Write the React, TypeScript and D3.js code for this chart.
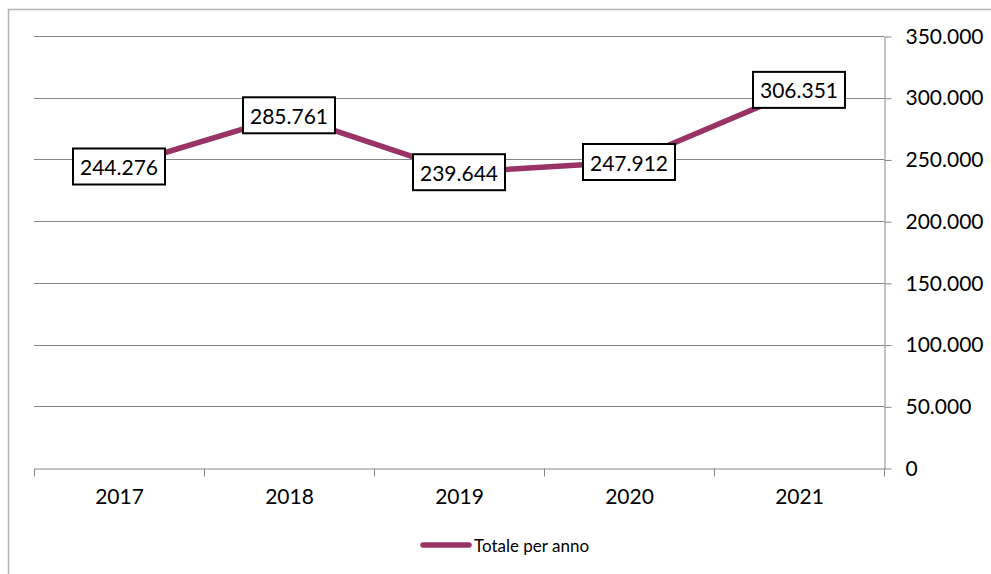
import React, { useRef, useEffect } from 'react';
import * as d3 from 'd3';

const years = ['2017', '2018', '2019', '2020', '2021'];
const totals = [244276, 285761, 239644, 247912, 306351];
const yTicks = [0, 50000, 100000, 150000, 200000, 250000, 300000, 350000];
const seriesName = 'Totale per anno';

const fmt = (v: number) => (v === 0 ? '0' : d3.format(',')(v).replace(/,/g, '.'));

const App = () => {
  const ref = useRef<SVGSVGElement>(null);

  useEffect(() => {
    const svg = d3.select(ref.current);
    svg.selectAll('*').remove();

    const width = 991;
    const height = 574;
    const margin = { top: 36, right: 107, bottom: 106, left: 34 };
    const font = 'Lato, "Open Sans", sans-serif';
    const lineColor = '#993366';
    const gridColor = '#868686';

    // outer chart frame (cut by the window on the right and bottom)
    svg.append('rect')
      .attr('x', 8.5).attr('y', 9.5)
      .attr('width', width + 20).attr('height', height + 20)
      .attr('fill', 'white')
      .attr('stroke', '#b4b4b4')
      .attr('stroke-width', 1.5);

    const x = d3.scaleBand()
      .domain(years)
      .range([margin.left, width - margin.right]);

    const y = d3.scaleLinear()
      .domain([0, 350000])
      .range([height - margin.bottom, margin.top]);

    // gridlines
    svg.append('g')
      .selectAll('line')
      .data(yTicks.filter(d => d > 0))
      .join('line')
      .attr('x1', margin.left)
      .attr('x2', width - margin.right)
      .attr('y1', d => Math.round(y(d)) + 0.5)
      .attr('y2', d => Math.round(y(d)) + 0.5)
      .attr('stroke', gridColor);

    // right y axis
    const yAxis = svg.append('g')
      .attr('transform', `translate(${width - margin.right + 0.5},0.5)`)
      .call(d3.axisRight(y).tickValues(yTicks).tickFormat(d => fmt(+d)).tickSize(7).tickPadding(14).tickSizeOuter(0));
    yAxis.select('.domain').attr('stroke', gridColor);
    yAxis.selectAll('line').attr('stroke', gridColor);
    yAxis.selectAll('text')
      .style('font-family', font)
      .style('font-size', '21px')
      .attr('fill', '#000');

    // bottom x axis
    const xAxis = svg.append('g')
      .attr('transform', `translate(0.5,${Math.round(y(0)) + 0.5})`)
      .call(d3.axisBottom(x).tickSize(0).tickPadding(21));
    xAxis.select('.domain').attr('stroke', gridColor);
    xAxis.selectAll('text')
      .style('font-family', font)
      .style('font-size', '21px')
      .attr('fill', '#000');
    const bounds = years.map(d => x(d) as number).concat([width - margin.right]);
    xAxis.selectAll('.bound')
      .data(bounds)
      .join('line')
      .attr('x1', d => Math.round(d))
      .attr('x2', d => Math.round(d))
      .attr('y1', 0)
      .attr('y2', 8)
      .attr('stroke', gridColor);

    const cx = (d: string) => (x(d) as number) + x.bandwidth() / 2;

    // series line
    const line = d3.line<number>()
      .x((_, i) => cx(years[i]))
      .y(d => y(d));

    svg.append('path')
      .datum(totals)
      .attr('d', line)
      .attr('fill', 'none')
      .attr('stroke', lineColor)
      .attr('stroke-width', 5.5)
      .attr('stroke-linejoin', 'round');

    // data labels
    const labels = svg.append('g')
      .selectAll('g')
      .data(totals)
      .join('g')
      .attr('transform', (d, i) => `translate(${cx(years[i])},${y(d)})`);

    labels.append('rect')
      .attr('x', -46).attr('y', -18)
      .attr('width', 92).attr('height', 36)
      .attr('fill', 'white')
      .attr('stroke', '#000')
      .attr('stroke-width', 2);

    labels.append('text')
      .attr('text-anchor', 'middle')
      .attr('dominant-baseline', 'central')
      .style('font-family', font)
      .style('font-size', '21px')
      .text(d => fmt(d));

    // legend
    const lg = svg.append('g').attr('transform', 'translate(421,545)');
    lg.append('line')
      .attr('x1', 2).attr('x2', 48)
      .attr('stroke', lineColor)
      .attr('stroke-width', 5.5)
      .attr('stroke-linecap', 'round');
    lg.append('text')
      .attr('x', 53)
      .attr('dominant-baseline', 'central')
      .style('font-family', font)
      .style('font-size', '17px')
      .text(seriesName);
  }, []);

  return (
    <div style={{ position: 'absolute', left: 0, top: 0 }}>
      <svg ref={ref} width={991} height={574} style={{ display: 'block' }}></svg>
    </div>
  );
};

export default App;
